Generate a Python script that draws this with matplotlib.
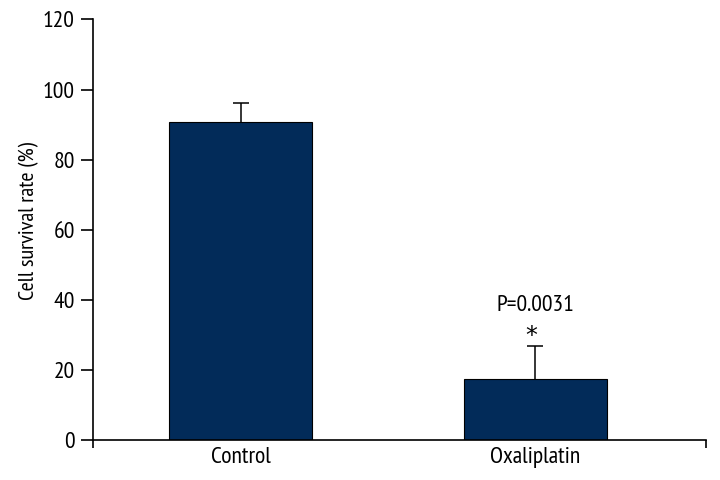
import matplotlib
matplotlib.use('Agg')
import matplotlib.pyplot as plt
import numpy as np

# data
groups = ['Control', 'Oxaliplatin']
survival = [90.8, 17.3]
err_up = [5.3, 9.6]
p_label = 'P=0.0031'

plt.rcParams['font.family'] = ['PT Sans Narrow', 'DejaVu Sans']

fig = plt.figure(figsize=(7.2, 4.8), dpi=100)
ax = fig.add_axes([0.129, 0.0833, 0.8516, 0.8761])

x = np.arange(len(groups))
ax.bar(x, survival, width=0.485, color='#022b59', edgecolor='black', linewidth=0.8, zorder=2)
eb = ax.errorbar(x, survival, yerr=[[0] * len(x), err_up], fmt='none', ecolor='black',
                 elinewidth=1.1, capsize=6, capthick=1.1, zorder=1)
eb[1][0].set_visible(False)  # no lower cap

# significance marks above the oxaliplatin bar
top = survival[1] + err_up[1]
ax.text(x[1] - 0.015, top + 6.3, '*', ha='center', va='top', fontsize=17, family='DejaVu Sans')
ax.text(x[1], top + 8.5, p_label, ha='center', va='bottom', fontsize=17)

ax.set_xlim(-0.5015, 1.5786)
ax.set_ylim(0, 120)
ax.set_yticks(np.arange(0, 121, 20))
ax.set_xticks(x)
ax.set_xticklabels(groups)
ax.set_xticks([-0.5015, 1.5786], minor=True)
ax.set_ylabel('Cell survival rate (%)', fontsize=16)
ax.yaxis.set_label_coords(-0.088, 0.521)

for s in ['top', 'right']:
    ax.spines[s].set_visible(False)
for s in ['left', 'bottom']:
    ax.spines[s].set_linewidth(1.2)

ax.tick_params(axis='y', length=9, width=1.2, labelsize=17, pad=4)
ax.tick_params(axis='x', which='major', length=0, labelsize=17, pad=5)
ax.tick_params(axis='x', which='minor', length=6, width=1.2)

fig.savefig('out.png', dpi=100)
